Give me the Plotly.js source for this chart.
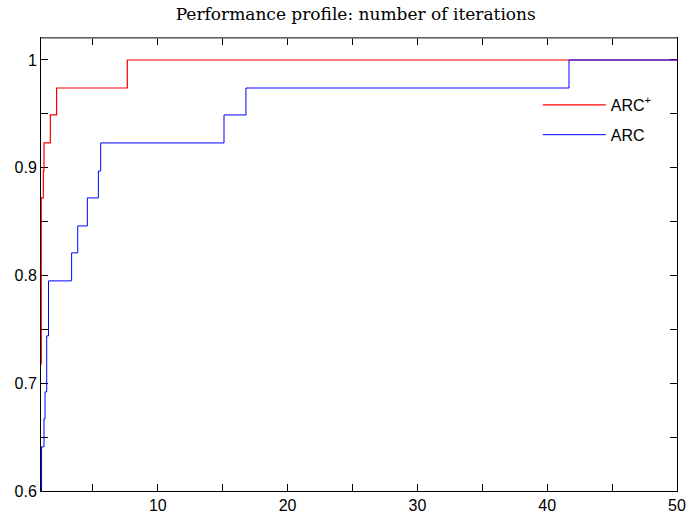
<!DOCTYPE html>
<html>
<head>
<meta charset="utf-8">
<script src="https://cdn.plot.ly/plotly-3.0.1.min.js"></script>
<style>html,body{margin:0;padding:0;background:#fff;}#chart{width:688px;height:515px;}</style>
</head>
<body>
<div id="chart"></div>
<script>
// Performance ratio thresholds (tau) and fraction of problems solved
const arcPlusTau = [1, 1.02, 1.18, 1.23, 1.72, 2.2, 7.65, 50];
const arcPlusRho = [0.718, 0.872, 0.897, 0.923, 0.949, 0.974, 1, 1];

const arcTau = [1, 1.04, 1.23, 1.31, 1.44, 1.58, 3.36, 3.83, 4.57, 5.42, 5.6, 15.1, 16.79, 41.68, 50];
const arcRho = [0.59, 0.641, 0.667, 0.692, 0.744, 0.795, 0.821, 0.846, 0.872, 0.897, 0.923, 0.949, 0.974, 1, 1];

const seriesNames = ['ARC<sup>+</sup>', 'ARC'];
const chartTitle = 'Performance profile: number of iterations';

const traces = [
  {x: arcPlusTau, y: arcPlusRho, name: seriesNames[0], type: 'scatter', mode: 'lines',
   line: {shape: 'hv', color: '#ff0000', width: 1.2}, legendgroup: 'a'},
  {x: arcTau, y: arcRho, name: seriesNames[1], type: 'scatter', mode: 'lines',
   line: {shape: 'hv', color: '#0000ff', width: 1}, legendgroup: 'b'}
];

const layout = {
  width: 688, height: 515,
  margin: {l: 41, r: 11, t: 38, b: 24, pad: 0},
  paper_bgcolor: '#fff', plot_bgcolor: '#fff',
  font: {family: 'Liberation Sans, Arial, sans-serif', size: 16, color: '#000'},
  title: {text: chartTitle, font: {family: 'DejaVu Serif, serif', size: 17, color: '#000'},
          x: 0.517, xanchor: 'center', y: 0.973, yanchor: 'middle'},
  showlegend: true,
  legend: {x: 0.781, y: 0.819, xanchor: 'left', yanchor: 'middle', bgcolor: 'rgba(0,0,0,0)',
           borderwidth: 0, font: {size: 16}, traceorder: 'grouped', tracegroupgap: 6, itemwidth: 63},
  xaxis: {range: [1, 50], showgrid: false, zeroline: false, showline: true, linecolor: '#000', linewidth: 1,
          mirror: 'ticks', ticks: 'inside', ticklen: 7, tickcolor: '#000', tickwidth: 1,
          tick0: 0, dtick: 10, tickfont: {size: 16}, layer: 'below traces',
          minor: {dtick: 5, tick0: 0, ticks: 'inside', ticklen: 7, tickcolor: '#000', showgrid: false}},
  yaxis: {range: [0.6, 1.0204], showgrid: false, zeroline: false, showline: true, linecolor: '#000', linewidth: 1,
          mirror: 'ticks', ticks: 'inside', ticklen: 7, tickcolor: '#000', tickwidth: 1,
          tick0: 0.6, dtick: 0.1, tickfont: {size: 16}, layer: 'below traces',
          minor: {dtick: 0.05, tick0: 0.6, ticks: 'inside', ticklen: 7, tickcolor: '#000', showgrid: false}},
  shapes: [
    {type: 'line', xref: 'paper', yref: 'paper', x0: 0, x1: 1, y0: 1, y1: 1,
     line: {color: '#808080', width: 1.5}, layer: 'above'}
  ]
};

Plotly.newPlot('chart', traces, layout, {displayModeBar: false, staticPlot: true});
</script>
</body>
</html>
